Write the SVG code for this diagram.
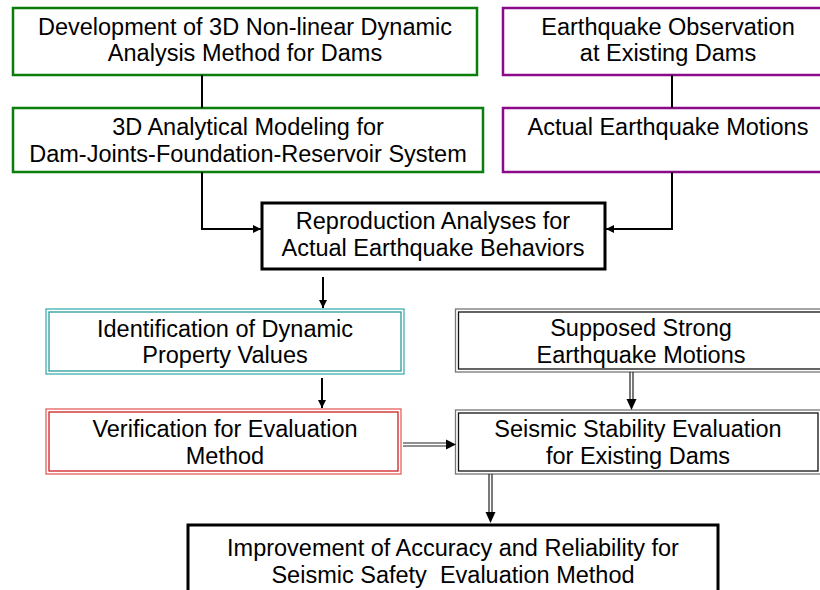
<svg xmlns="http://www.w3.org/2000/svg" width="820" height="590" viewBox="0 0 820 590">
<defs>
<style>
text{font-family:"Liberation Sans",Arial,sans-serif;font-size:23.5px;fill:#000;text-anchor:middle}
.g{fill:#fff;stroke:#0a7d0a;stroke-width:2.5}
.p{fill:#fff;stroke:#8a0a8a;stroke-width:2.5}
.k{fill:#fff;stroke:#000;stroke-width:3}
.co{fill:#fff;stroke:#3fb0b0;stroke-width:1.3}
.ci{fill:none;stroke:#2a9a9a;stroke-width:1.3}
.ro{fill:#fff;stroke:#e36060;stroke-width:1.3}
.ri{fill:none;stroke:#d02020;stroke-width:1.3}
.bo{fill:#fff;stroke:#777;stroke-width:1.3}
.bi{fill:none;stroke:#111;stroke-width:1.3}
.c{fill:none;stroke:#000;stroke-width:2}
.d{fill:none;stroke:#222;stroke-width:1.2}
</style>
<marker id="a" viewBox="0 0 10 10" refX="10" refY="5" markerWidth="9" markerHeight="8" markerUnits="userSpaceOnUse" orient="auto">
<path d="M0,0L10,5L0,10z" fill="#000"/>
</marker>
</defs>
<g id="n1"><rect class="g" x="13" y="8" width="464" height="67"/><text x="245" y="35">Development of 3D Non-linear Dynamic</text><text x="245" y="61">Analysis Method for Dams</text></g>
<g id="n2"><rect class="g" x="13" y="108" width="470" height="64"/><text x="248" y="135">3D Analytical Modeling for</text><text x="248" y="162">Dam-Joints-Foundation-Reservoir System</text></g>
<g id="n3"><rect class="p" x="503" y="8" width="330" height="67"/><text x="668" y="35">Earthquake Observation</text><text x="668" y="61">at Existing Dams</text></g>
<g id="n4"><rect class="p" x="503" y="108" width="330" height="64"/><text x="668" y="135">Actual Earthquake Motions</text></g>
<g id="n5"><rect class="k" x="262" y="203" width="343" height="66"/><text x="433" y="229">Reproduction Analyses for</text><text x="433" y="256">Actual Earthquake Behaviors</text></g>
<g id="n6"><rect class="co" x="46" y="309" width="358" height="65"/><rect class="ci" x="49" y="312" width="352" height="59"/><text x="225" y="337">Identification of Dynamic</text><text x="225" y="363">Property Values</text></g>
<g id="n7"><rect class="ro" x="46" y="409" width="355" height="65"/><rect class="ri" x="49" y="412" width="349" height="59"/><text x="225" y="437">Verification for Evaluation</text><text x="225" y="464">Method</text></g>
<g id="n8"><rect class="bo" x="455.5" y="309" width="380" height="63"/><rect class="bi" x="458.5" y="312" width="380" height="57"/><text x="641" y="336">Supposed Strong</text><text x="641" y="363">Earthquake Motions</text></g>
<g id="n9"><rect class="bo" x="455.5" y="410" width="366" height="64"/><rect class="bi" x="458.5" y="413" width="359.5" height="58"/><text x="638" y="437">Seismic Stability Evaluation</text><text x="638" y="464">for Existing Dams</text></g>
<g id="n10"><rect class="k" x="188" y="525" width="530" height="90"/><text x="453" y="556">Improvement of Accuracy and Reliability for</text><text x="453" y="583" xml:space="preserve">Seismic Safety  Evaluation Method</text></g>
<g id="connectors">
<path class="c" d="M202,75V108"/>
<path class="c" d="M672,75V108"/>
<path class="c" d="M202,172V229H261" marker-end="url(#a)"/>
<path class="c" d="M672,172V229H606" marker-end="url(#a)"/>
<path class="c" d="M323,277V308" marker-end="url(#a)"/>
<path class="c" d="M322,378V408" marker-end="url(#a)"/>
<path class="d" d="M630,372V401M633,372V401"/>
<path d="M626.5,399L636.5,399L631.5,410z" fill="#000"/>
<path class="d" d="M403,443H448M403,446H448"/>
<path d="M446,439.5L446,449.5L456,444.5z" fill="#000"/>
<path class="d" d="M489,474V514M492,474V514"/>
<path d="M485.5,512L495.5,512L490.5,523z" fill="#000"/>
</g>
</svg>
